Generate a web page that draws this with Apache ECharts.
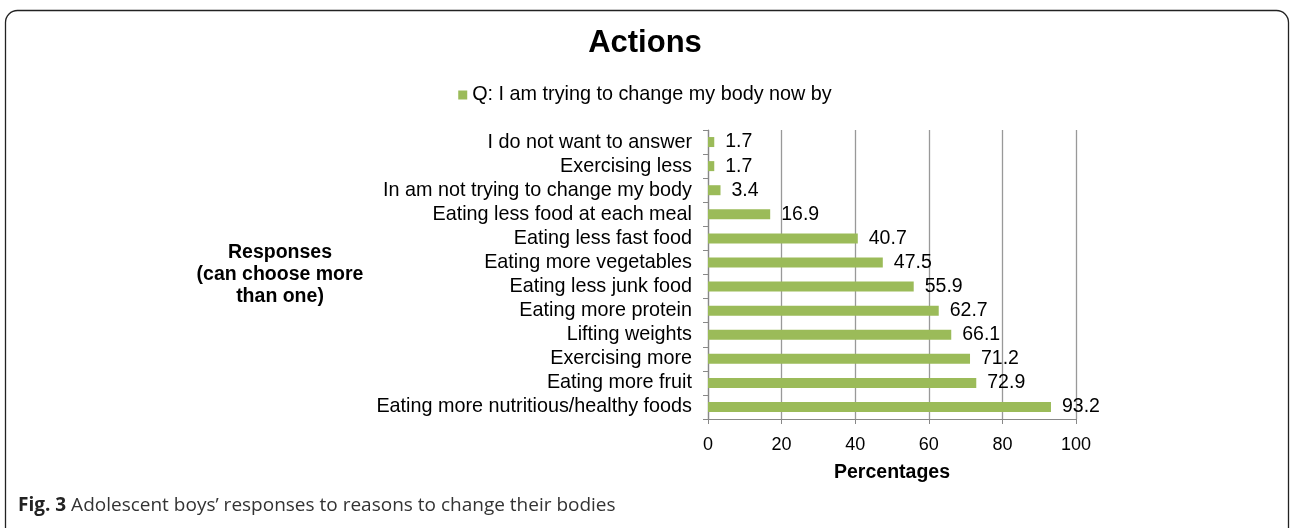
<!DOCTYPE html>
<html>
<head>
<meta charset="utf-8">
<script src="https://cdn.jsdelivr.net/npm/echarts@6/dist/echarts.min.js"></script>
<style>
  html, body { margin: 0; padding: 0; background: #fff; }
  #chart { width: 1290px; height: 528px; }
</style>
</head>
<body>
<div id="chart"></div>
<script>
// categories, top to bottom as in the figure
var categories = [
  "I do not want to answer",
  "Exercising less",
  "In am not trying to change my body",
  "Eating less food at each meal",
  "Eating less fast food",
  "Eating more vegetables",
  "Eating less junk food",
  "Eating more protein",
  "Lifting weights",
  "Exercising more",
  "Eating more fruit",
  "Eating more nutritious/healthy foods"
];
var values = [1.7, 1.7, 3.4, 16.9, 40.7, 47.5, 55.9, 62.7, 66.1, 71.2, 72.9, 93.2];
var seriesName = "Q: I am trying to change my body now by";
var xTicks = [0, 20, 40, 60, 80, 100];

var font = "Liberation Sans, Arial, sans-serif";
var myChart = echarts.init(document.getElementById("chart"));

var option = {
  backgroundColor: "#fff",
  animation: false,
  title: {
    text: "Actions",
    left: "center",
    top: 23,
    textStyle: { fontFamily: font, fontSize: 31, fontWeight: "bold", color: "#000" }
  },
  legend: {
    top: 80,
    left: "center",
    itemWidth: 9,
    itemHeight: 9,
    itemGap: 6,
    icon: "rect",
    textStyle: { fontFamily: font, fontSize: 19.8, color: "#000" },
    data: [seriesName]
  },
  grid: { left: 708, right: 214, top: 130, bottom: 109, containLabel: false },
  xAxis: {
    type: "value",
    min: xTicks[0],
    max: xTicks[xTicks.length - 1],
    interval: 20,
    name: "Percentages",
    nameLocation: "middle",
    nameGap: 44,
    nameTextStyle: { fontFamily: font, fontSize: 19.5, fontWeight: "bold", color: "#000" },
    axisLine: { show: true, lineStyle: { color: "#888", width: 1.2 } },
    axisTick: { show: true, length: 5, lineStyle: { color: "#888" } },
    axisLabel: { fontFamily: font, fontSize: 18, color: "#000", margin: 17 },
    splitLine: { show: true, lineStyle: { color: "#999", width: 1.3 } }
  },
  yAxis: {
    type: "category",
    inverse: true,
    data: categories,
    name: "Responses\n(can choose more\nthan one)",
    nameLocation: "middle",
    nameRotate: 0,
    nameGap: 428,
    nameTextStyle: { fontFamily: font, fontSize: 19.5, fontWeight: "bold", color: "#000", align: "center", lineHeight: 22 },
    axisLine: { show: true, lineStyle: { color: "#888", width: 1.2 } },
    axisTick: { show: true, length: 5, alignWithLabel: false, interval: 0, lineStyle: { color: "#888" } },
    axisLabel: { fontFamily: font, fontSize: 19.8, color: "#000", margin: 16, interval: 0, hideOverlap: false }
  },
  series: [
    {
      name: seriesName,
      type: "bar",
      data: values,
      barWidth: 10,
      itemStyle: { color: "#9BBB59" },
      label: {
        show: true,
        position: "right",
        distance: 11,
        fontFamily: font,
        fontSize: 19.5,
        color: "#000"
      }
    }
  ],
  graphic: [
    {
      type: "rect",
      left: 3,
      top: 8,
      shape: { width: 1283, height: 560, r: 12 },
      style: { fill: null, stroke: "#222", lineWidth: 1.3 },
      silent: true
    },
    {
      type: "text",
      left: 18,
      top: 496,
      style: {
        text: "{b|Fig. 3} Adolescent boys\u2019 responses to reasons to change their bodies",
        fontFamily: "Open Sans, Noto Sans, sans-serif",
        fontSize: 19,
        fill: "#333",
        rich: {
          b: { fontFamily: "Open Sans, Noto Sans, sans-serif", fontSize: 19, fontWeight: "bold", fill: "#222" }
        }
      }
    }
  ]
};

myChart.setOption(option);
window.onresize = function () {
  myChart.resize();
};
</script>
</body>
</html>
